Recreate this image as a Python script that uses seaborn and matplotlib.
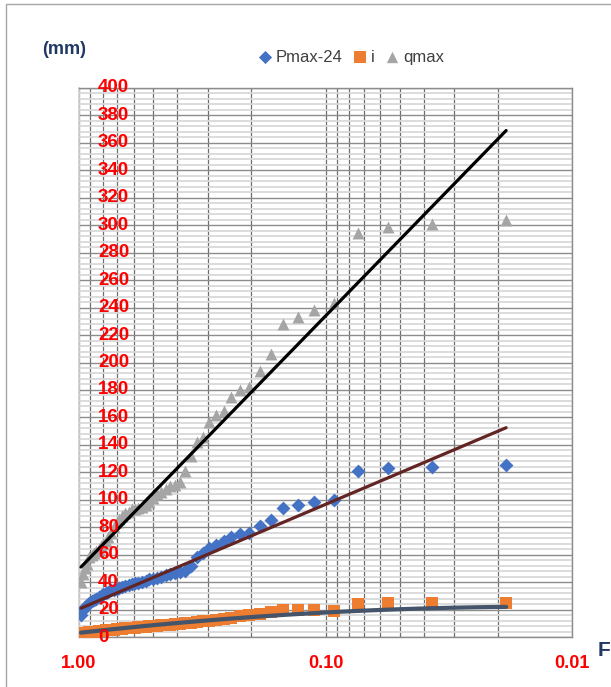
import numpy as np
import pandas as pd
import matplotlib
matplotlib.use("Agg")
import matplotlib.pyplot as plt
from matplotlib.patches import Rectangle
from matplotlib.ticker import FixedLocator, LogLocator, MultipleLocator, NullFormatter
import seaborn as sns

# ------------------------------------------------------------------
# Data (sorted from largest to smallest value)
# ------------------------------------------------------------------
pmax_24 = [125, 124, 123, 121, 100, 98, 96, 94, 85, 81,
           76, 75, 73, 70, 67, 65, 61, 58, 52, 48,
           47, 46.5, 46, 45, 44, 43, 42.5, 42, 41, 40,
           39.5, 39, 38.5, 38, 37, 36.5, 36, 35, 34.5, 34,
           33, 32, 31, 30, 29, 28, 27, 26, 25, 23.5,
           22, 20, 16]

i_vals = [24.5, 24.5, 24.5, 24, 19, 19.5, 19.5, 19.5, 18, 17,
          16, 15, 14, 13, 12.5, 12, 11.5, 11, 10.5, 10,
          9.7, 9.4, 9.1, 8.8, 8.5, 8.2, 8, 7.8, 7.5, 7.2,
          7, 6.8, 6.6, 6.4, 6.2, 6, 5.8, 5.6, 5.4, 5.2,
          5, 4.8, 4.6, 4.4, 4.2, 4, 3.8, 3.6, 3.4, 3.2,
          3, 2.7, 2.3]

qmax = [304, 301, 299, 294, 243, 238, 233, 228, 206, 194,
        182, 180, 175, 165, 162, 157, 146, 142, 132, 121,
        113, 111, 110, 108, 106, 104, 101, 98, 96, 95,
        94, 93, 93, 91, 90, 88, 86, 84, 80, 76,
        73, 70, 68, 66, 64, 63, 61, 60, 58, 53,
        50, 46, 40]

# trend lines (value at exceedance probability F)
trend_f_ends = [0.9815, 0.0185]
pmax_trend = [21, 152.5]
qmax_trend = [51, 369]
i_trend_f = [0.9815, 0.5, 0.2, 0.1, 0.05, 0.0185]
i_trend = [3, 9, 14, 18.3, 20, 22]

x_ticks = [1.0, 0.1, 0.01]
x_tick_labels = ["1.00", "0.10", "0.01"]
y_ticks = list(range(0, 401, 20))

# Weibull plotting position m/(n+1)
n = len(pmax_24)
rank = np.arange(1, n + 1)
exceed = rank / (n + 1)
df = pd.DataFrame({"F": exceed, "Pmax-24": pmax_24, "i": i_vals, "qmax": qmax})

# smooth the i trend with a quadratic in log10(F)
coef = np.polyfit(np.log10(i_trend_f), i_trend, 2)
f_dense = np.logspace(np.log10(i_trend_f[0]), np.log10(i_trend_f[-1]), 60)
i_trend_dense = np.polyval(coef, np.log10(f_dense))

# ------------------------------------------------------------------
# Plot
# ------------------------------------------------------------------
sns.set_theme(style="white")
plt.rcParams["font.family"] = ["Liberation Sans", "DejaVu Sans"]

fig = plt.figure(figsize=(6.11, 6.87), dpi=100)
ax = fig.add_axes([79 / 611, 50 / 687, 493 / 611, 549 / 687])

sns.scatterplot(data=df, x="F", y="Pmax-24", marker="D", s=50, color="#4472C4",
                linewidth=0, label="Pmax-24", ax=ax, zorder=3)
sns.scatterplot(data=df, x="F", y="i", marker="s", s=78, color="#ED7D31",
                linewidth=0, label="i", ax=ax, zorder=3)
sns.scatterplot(data=df, x="F", y="qmax", marker="^", s=74, color="#A5A5A5",
                linewidth=0, label="qmax", ax=ax, zorder=3)

sns.lineplot(x=trend_f_ends, y=qmax_trend, color="black", lw=2.3, ax=ax, zorder=4)
sns.lineplot(x=trend_f_ends, y=pmax_trend, color="#632523", lw=2.3, ax=ax, zorder=4)
sns.lineplot(x=f_dense, y=i_trend_dense, color="#44546A", lw=3.0, ax=ax, zorder=4,
             sort=False)

ax.set_xscale("log")
ax.set_xlim(1.0, 0.01)
ax.set_ylim(0, 400)

ax.xaxis.set_major_locator(FixedLocator(x_ticks))
ax.set_xticklabels(x_tick_labels)
ax.xaxis.set_minor_locator(LogLocator(base=10, subs=np.arange(2, 10)))
ax.xaxis.set_minor_formatter(NullFormatter())
ax.set_yticks(y_ticks)
ax.yaxis.set_minor_locator(MultipleLocator(4))

ax.grid(which="major", axis="y", color="#8c8c8c", lw=1.0)
ax.grid(which="minor", axis="y", color="#d9d9d9", lw=1.3)
ax.grid(which="both", axis="x", color="#6e6e6e", lw=0.9)
ax.set_axisbelow(True)

ax.tick_params(axis="x", which="major", direction="out", length=6, width=1,
               color="#8c8c8c", pad=7, labelsize=13, labelcolor="red")
ax.tick_params(axis="x", which="minor", length=0)
ax.tick_params(axis="y", which="both", length=0, labelleft=False)
for lbl in ax.get_xticklabels():
    lbl.set_fontweight("bold")

# y labels sit inside the plot area, on top of the grid
ylab_tf = ax.get_yaxis_transform()
for yt in y_ticks:
    ax.text(19 / 493, yt, str(yt), transform=ylab_tf, color="red",
            fontsize=13.5, fontweight="bold", ha="left", va="center",
            zorder=6, clip_on=False)

ax.set_xlabel("")
ax.set_ylabel("")
for side in ["top", "right", "bottom"]:
    ax.spines[side].set_color("#8c8c8c")
    ax.spines[side].set_linewidth(1)
ax.spines["left"].set_color("#d0d0d0")

ax.get_legend().remove()
handles, labels = ax.get_legend_handles_labels()
leg = fig.legend(handles, labels, loc="center", bbox_to_anchor=(0.574, 0.917),
                 ncol=3, frameon=False, fontsize=12, handletextpad=0.2,
                 handlelength=0.9, columnspacing=0.6, markerscale=0.95,
                 borderaxespad=0)
for t in leg.get_texts():
    t.set_color("#404040")

fig.text(42 / 611, 1 - 50 / 687, "(mm)", color="#1F3864", fontweight="bold",
         fontsize=13, ha="left", va="center")
fig.text(598 / 611, 1 - 651 / 687, "F", color="#1F3864", fontweight="bold",
         fontsize=15, ha="left", va="center")

# thin frame around the chart area
fig.patches.append(Rectangle((6 / 611, -0.01), 1.0, 1 - 4 / 687 + 0.01,
                             transform=fig.transFigure, fill=False,
                             edgecolor="#a6a6a6", lw=1))

fig.savefig("out.png", dpi=100)
